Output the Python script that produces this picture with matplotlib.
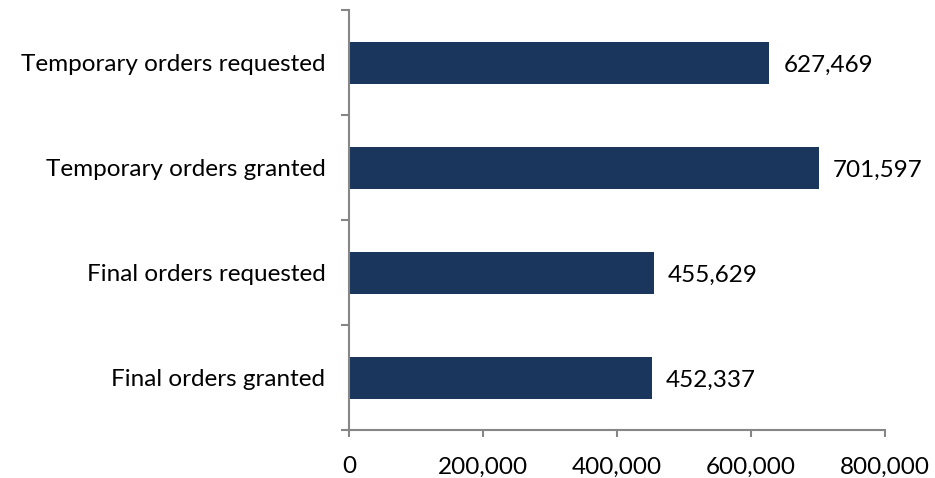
import numpy as np
import matplotlib
matplotlib.use("Agg")
from matplotlib import pyplot as plt
from matplotlib.ticker import FuncFormatter, FixedLocator

plt.rcParams['font.family'] = ['Lato', 'DejaVu Sans']

categories = ['Temporary orders requested', 'Temporary orders granted',
              'Final orders requested', 'Final orders granted']
values = [627469, 701597, 455629, 452337]
x_ticks = [0, 200000, 400000, 600000, 800000]

bar_color = '#1a365d'
axis_color = '#868686'
fs = 17.5

fig = plt.figure(figsize=(9.35, 4.78), dpi=100)
ax = fig.add_axes([0.3733, 0.1004, 0.5732, 0.8786])

pos = np.arange(len(categories))[::-1]
ax.barh(pos, values, height=0.4, color=bar_color)

for p, v in zip(pos, values):
    ax.annotate(f'{v:,}', (v, p), xytext=(10, -2), textcoords='offset points',
                va='center', ha='left', fontsize=fs)

ax.set_xlim(0, 800000)
ax.set_ylim(-0.5, len(categories) - 0.5)
ax.set_xticks(x_ticks)
ax.xaxis.set_major_formatter(FuncFormatter(lambda v, _: f'{int(v):,}'))

# category labels centered, tick marks on the boundaries between them
ax.set_yticks(pos)
ax.set_yticklabels(categories)
ax.yaxis.set_minor_locator(FixedLocator(np.arange(-0.5, len(categories), 1.0)))
ax.tick_params(axis='y', which='major', length=0, pad=17, labelsize=fs)
ax.tick_params(axis='y', which='minor', length=6, width=1.5, color=axis_color)
ax.tick_params(axis='x', length=5, width=1.5, color=axis_color, pad=14, labelsize=fs)

for side in ['top', 'right']:
    ax.spines[side].set_visible(False)
for side in ['left', 'bottom']:
    ax.spines[side].set_color(axis_color)
    ax.spines[side].set_linewidth(1.5)

fig.savefig('out.png', dpi=100)
